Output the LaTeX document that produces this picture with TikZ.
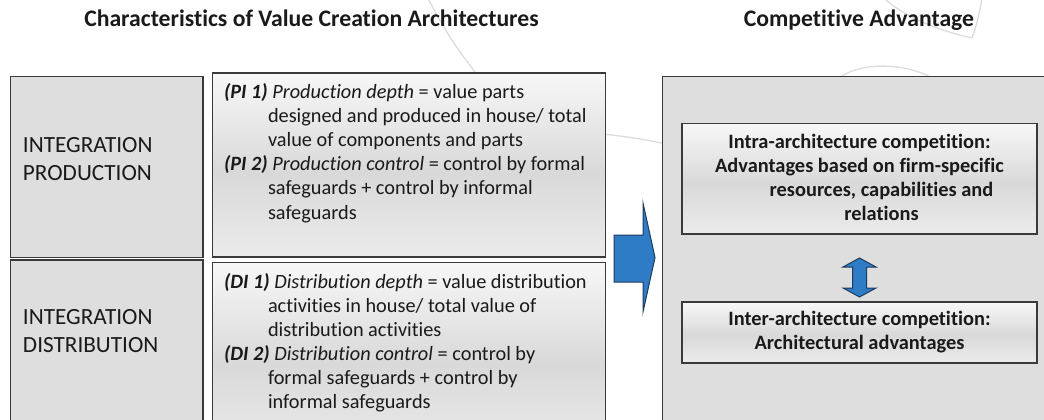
\documentclass[tikz,border=0pt]{standalone}
\usepackage{fontspec}
\setmainfont{Carlito}[Ligatures=NoCommon]
\usetikzlibrary{calc}

\definecolor{panelgrey}{HTML}{DEDEDE}
\definecolor{edgegrey}{HTML}{3A3A3A}
\definecolor{inkgrey}{HTML}{1A1A1A}
\definecolor{arrowblue}{HTML}{2E7BC6}
\definecolor{arrowedge}{HTML}{1E3A5C}
\definecolor{decoline}{HTML}{DCDCDC}

% white-to-grey-to-white bevel used by the text boxes (0bp = bottom)
\pgfdeclareverticalshading{softbevel}{100bp}{%
  color(0bp)=(white); color(10bp)=(white!97!black);
  color(48bp)=(white!85!black); color(82bp)=(white); color(100bp)=(white)}

\newcommand{\indentby}{\hspace*{44pt}}

\begin{document}
\begin{tikzpicture}[x=1pt,y=-1pt,
  panel/.style={draw=edgegrey, line width=1.5pt, fill=panelgrey,
    inner sep=0pt, outer sep=0pt, anchor=north west},
  bevelbox/.style={draw=edgegrey, line width=1.5pt, shade, shading=softbevel,
    inner sep=0pt, outer sep=0pt, anchor=north west},
  heading/.style={font=\fontsize{23.7}{28}\selectfont\bfseries, text=inkgrey,
    anchor=base, inner sep=0pt},
  txt/.style={text=inkgrey, inner sep=0pt, outer sep=0pt, anchor=base west},
  ctxt/.style={text=inkgrey, inner sep=0pt, outer sep=0pt, anchor=base},
  blockarrow/.style={fill=arrowblue, draw=arrowedge, line width=1pt, line join=miter},
  deco/.style={draw=decoline, line width=1.3pt}
]
\useasboundingbox (0,0) rectangle (1044,420);
\clip (0,0) rectangle (1044,420);

% faint background arcs
\draw[deco] (428,-2) .. controls (442,26) and (458,52) .. (482,80);
\draw[deco] (560,131) .. controls (600,133) and (635,137) .. (666,144);
\draw[deco] (838,79) .. controls (856,63) and (902,61) .. (932,78);
\draw[deco] (884,-2) .. controls (900,14) and (935,30) .. (972,38);
\draw[deco] (972,38) .. controls (977,25) and (980,10) .. (982,-2);

% headings
\node[heading] (lefttitle) at (311.5,27) {Characteristics of Value Creation Architectures};
\node[heading] (righttitle) at (859,27) {Competitive Advantage};

% left column: category panels
\node[panel, minimum width=192.5pt, minimum height=181pt] (catprod) at (10.5,76.5) {};
\node[panel, minimum width=192.5pt, minimum height=190pt] (catdist) at (10.5,260) {};

% left column: definition boxes
\node[bevelbox, minimum width=393pt, minimum height=184pt] (defprod) at (212.5,73) {};
\node[bevelbox, minimum width=393pt, minimum height=188pt] (defdist) at (212.5,262.5) {};

% right column
\node[panel, minimum width=400pt, minimum height=380pt] (advpanel) at (662.5,76.5) {};
\node[bevelbox, minimum width=355pt, minimum height=110.5pt] (intra) at (682,123.5) {};
\node[bevelbox, minimum width=355pt, minimum height=61pt] (inter) at (682,302) {};

% category labels
\node[txt] (lblprod) at (23,152) {\fontsize{23.2}{28}\selectfont
  \begin{tabular}[t]{@{}l@{}}INTEGRATION\\PRODUCTION\end{tabular}};
\node[txt] (lbldist) at (23,324) {\fontsize{23.2}{28}\selectfont
  \begin{tabular}[t]{@{}l@{}}INTEGRATION\\DISTRIBUTION\end{tabular}};

% definitions
\node[txt] (txtprod) at (224,98) {\fontsize{20.3}{24.2}\selectfont
  \begin{tabular}[t]{@{}l@{}}
  \textbf{\textit{(PI 1)}} \textit{Production depth} = value parts\\
  \indentby designed and produced in house/ total\\
  \indentby value of components and parts\\
  \textbf{\textit{(PI 2)}} \textit{Production control} = control by formal\\
  \indentby safeguards + control by informal\\
  \indentby safeguards
  \end{tabular}};
\node[txt] (txtdist) at (224,288) {\fontsize{20.3}{24}\selectfont
  \begin{tabular}[t]{@{}l@{}}
  \textbf{\textit{(DI 1)}} \textit{Distribution depth} = value distribution\\
  \indentby activities in house/ total value of\\
  \indentby distribution activities\\
  \textbf{\textit{(DI 2)}} \textit{Distribution control} = control by\\
  \indentby formal safeguards + control by\\
  \indentby informal safeguards
  \end{tabular}};

% competitive advantage texts
\node[ctxt] (txtintra) at (859.5,148) {\fontsize{20.4}{24.2}\selectfont\bfseries
  \begin{tabular}[t]{@{}c@{}}
  Intra-architecture competition:\\
  Advantages based on firm-specific\\
  \indentby resources, capabilities and\\
  \indentby relations
  \end{tabular}};
\node[ctxt] (txtinter) at (859.5,325.5) {\fontsize{20.4}{24}\selectfont\bfseries
  \begin{tabular}[t]{@{}c@{}}
  Inter-architecture competition:\\
  Architectural advantages
  \end{tabular}};

% block arrow from the characteristics to the advantages
\draw[blockarrow] (614,235) -- (643,235) -- (643,203) -- (655,257.5)
  -- (643,312) -- (643,282) -- (614,282) -- cycle;

% two-way arrow between the two kinds of competition
\draw[blockarrow]
  ($(intra.south)+(0,24)$) -- ++(16.5,9) -- ++(-9.5,0) -- ++(0,21)
  -- ++(9.5,0) -- ($(inter.north)+(0,-5)$) -- ++(-16.5,-9) -- ++(9.5,0)
  -- ++(0,-21) -- ++(-9.5,0) -- cycle;
\end{tikzpicture}
\end{document}
